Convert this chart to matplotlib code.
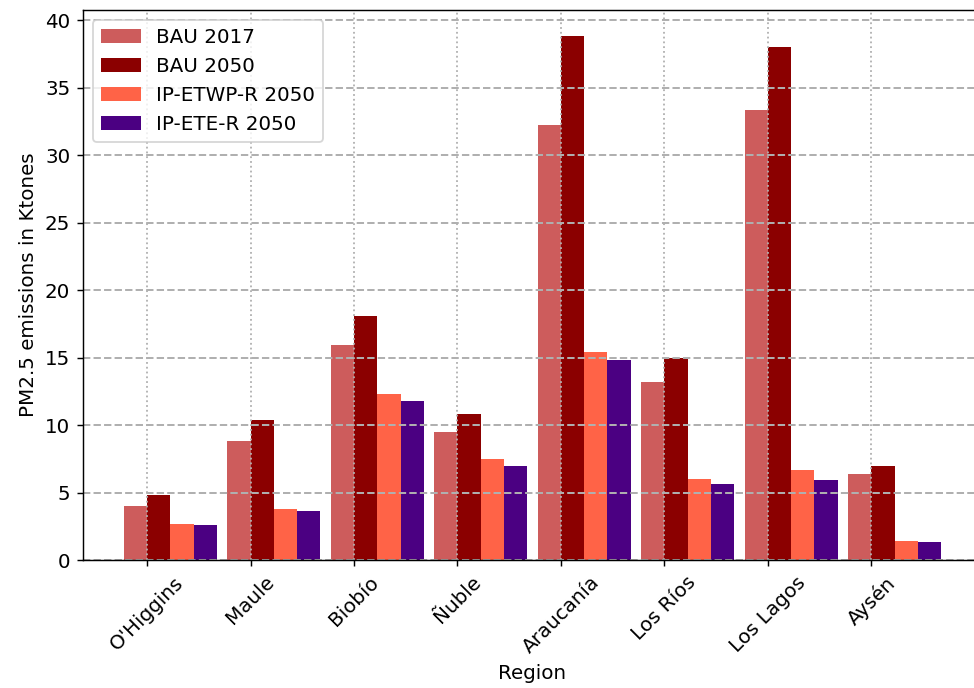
import matplotlib
matplotlib.use("Agg")
import matplotlib.pyplot as plt
import numpy as np

regions = ["O'Higgins", "Maule", "Biobío", "Ñuble", "Araucanía",
           "Los Ríos", "Los Lagos", "Aysén"]

bau_2017 = [4.0, 8.8, 15.9, 9.5, 32.2, 13.2, 33.3, 6.4]
bau_2050 = [4.8, 10.4, 18.1, 10.8, 38.8, 15.0, 38.0, 7.0]
ip_etwp_2050 = [2.7, 3.8, 12.3, 7.5, 15.4, 6.0, 6.7, 1.4]
ip_ete_2050 = [2.6, 3.6, 11.8, 7.0, 14.8, 5.6, 5.9, 1.3]

series = [
    ("BAU 2017", bau_2017, "indianred"),
    ("BAU 2050", bau_2050, "darkred"),
    ("IP-ETWP-R 2050", ip_etwp_2050, "tomato"),
    ("IP-ETE-R 2050", ip_ete_2050, "indigo"),
]

plt.rcParams["font.size"] = 11

fig = plt.figure(figsize=(974 / 130, 688 / 130), dpi=130)
ax = fig.add_axes([0.0852, 0.186, 0.923, 0.7994])

x = np.arange(len(regions))
w = 0.225
for i, (label, vals, color) in enumerate(series):
    ax.bar(x + (i - 0.5) * w, vals, w, label=label, color=color)

ax.grid(axis="y", linestyle="--", color="#b0b0b0", linewidth=1.1)
ax.grid(axis="x", linestyle=":", color="#b0b0b0", linewidth=1.0)

ax.set_xticks(x)
ax.set_xticklabels(regions, rotation=45)
ax.set_xlabel("Region")
ax.set_ylabel("PM2.5 emissions in Ktones")
ax.legend(loc="upper left")

fig.savefig("out.png", dpi=130)
